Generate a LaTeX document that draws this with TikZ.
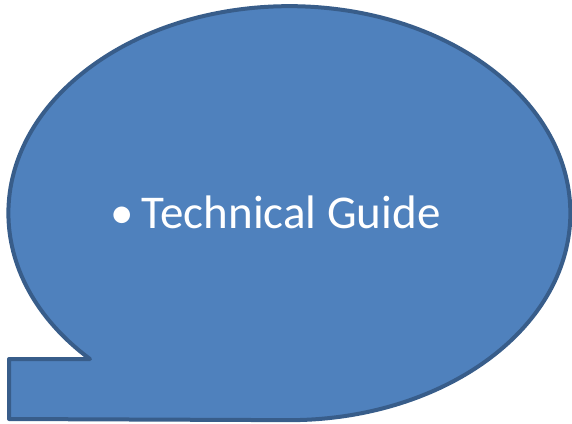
\documentclass[tikz,border=0pt]{standalone}
\usepackage{fontspec}
\setmainfont{Carlito}
\definecolor{bubblefill}{RGB}{79,129,189}
\definecolor{bubbledraw}{RGB}{56,93,138}
\tikzset{every picture/.style={line width=0.75pt}}
\begin{document}
\begin{tikzpicture}[x=1pt,y=1pt,yscale=-1]
	\useasboundingbox (0,0) rectangle (572,423);
	%Shape: Speech bubble
	\draw [color=bubbledraw, fill=bubblefill, line width=4pt, line join=round] (90,359) arc [start angle=135.2, end angle=450, x radius=281, y radius=207] -- (9,419) -- (9,359) -- cycle ;

	% Text Node
	\node (guide) at (275.5,212) [inner sep=0pt, text=white, font=\fontsize{47}{50}\selectfont] {•\hspace{8pt}Technical Guide};
\end{tikzpicture}
\end{document}
